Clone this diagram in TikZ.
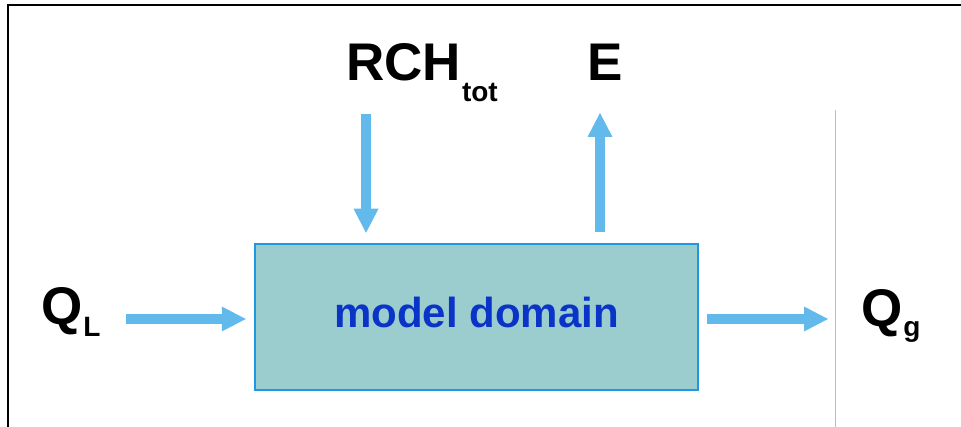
\documentclass[tikz,border=0pt]{standalone}
\usepackage{fontspec}
\setmainfont{Liberation Sans}
\usetikzlibrary{arrows.meta}
\definecolor{flowblue}{HTML}{62B9EC}
\definecolor{domfill}{HTML}{9CCDCE}
\definecolor{domedge}{HTML}{1E98E3}
\definecolor{domtext}{HTML}{0A34C8}
\definecolor{rulepink}{HTML}{F2A8A8}
\newcommand{\subtxt}[2]{\raisebox{-#1pt}{\fontsize{28}{28}\selectfont #2}}
\begin{document}
\begin{tikzpicture}[x=1pt,y=-1pt,
  flow/.style={draw=flowblue,line width=10pt,-{Triangle[width=25pt,length=24pt,line width=0pt]}},
  bigtxt/.style={font=\bfseries\fontsize{53}{53}\selectfont,inner sep=0pt,anchor=base west},
  dombox/.style={draw=domedge,fill=domfill,line width=2.5pt,minimum width=443pt,minimum height=146pt,
    inner sep=0pt,text=domtext,font=\bfseries\fontsize{42}{42}\selectfont,text height=30pt,text depth=8pt}]
\useasboundingbox (0,0) rectangle (961,427);
% frame
\draw[line width=2.3pt] (8,427) -- (8,5) -- (961,5);
% pink rule
\draw[rulepink,line width=1pt] (835,110) -- (835,427);
% domain box
\node[dombox] (dom) at (476.5,317) {model domain};
% labels
\node[bigtxt] (QL) at (41,325) {Q\kern1pt\subtxt{12}{L}};
\node[bigtxt] (Qg) at (861,327) {Q\kern1pt\subtxt{10}{g}};
\node[bigtxt] (RCH) at (346,81) {RCH\kern1pt\subtxt{21}{tot}};
\node[bigtxt] (E) at (587,81) {E};
% arrow ends
\coordinate (qlstart) at (126,319);
\coordinate (rchstart) at (366,114);
\coordinate (eend) at (600,113);
\coordinate (qgend) at (828,319);
% flows
\draw[flow,shorten >=8pt] (qlstart) -- (dom.west |- qlstart);
\draw[flow,shorten >=10pt] (rchstart) -- (dom.north -| rchstart);
\draw[flow,shorten <=11pt] (dom.north -| eend) -- (eend);
\draw[flow,shorten <=8pt] (dom.east |- qgend) -- (qgend);
\end{tikzpicture}
\end{document}
